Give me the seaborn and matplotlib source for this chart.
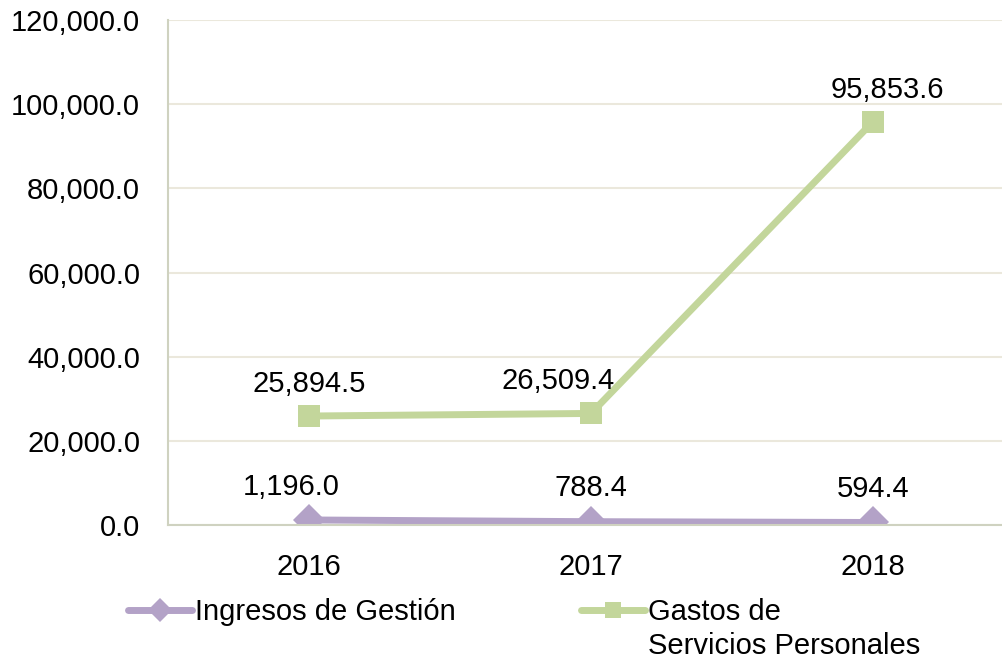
import matplotlib
matplotlib.use("Agg")
import matplotlib.pyplot as plt
import seaborn as sns
import pandas as pd
from matplotlib.ticker import FuncFormatter, MultipleLocator

years = ["2016", "2017", "2018"]
ingresos = [1196.0, 788.4, 594.4]
gastos = [25894.5, 26509.4, 95853.6]
series_names = ["Ingresos de Gestión", "Gastos de"]
gastos_label_line2 = "Servicios Personales"

df = pd.DataFrame({
    "year": years * 2,
    "value": ingresos + gastos,
    "serie": [series_names[0]] * 3 + [series_names[1]] * 3,
})

sns.set_theme(style="white")
plt.rcParams["font.family"] = ["Liberation Sans", "DejaVu Sans"]
plt.rcParams["text.color"] = "#000000"

FS = 21
purple = "#b3a2c7"
green = "#c3d69b"

fig = plt.figure(figsize=(10.02, 6.62), dpi=100)
ax = fig.add_axes([168 / 1002, 137 / 662, 834 / 1002, 505 / 662])

sns.lineplot(
    data=df, x="year", y="value", hue="serie", style="serie",
    palette={series_names[0]: purple, series_names[1]: green},
    markers={series_names[0]: "D", series_names[1]: "s"},
    dashes=False, linewidth=5, markersize=16, markeredgewidth=0,
    sort=False, ax=ax, legend=True,
)

ax.set_xlim(-0.5, -0.5 + 834 / 282)
ax.set_ylim(0, 120000)
ax.yaxis.set_major_locator(MultipleLocator(20000))
ax.yaxis.set_major_formatter(FuncFormatter(lambda v, p: f"{v:,.1f}"))
ax.grid(axis="y", color="#ebe8dc", linewidth=1.5)
ax.set_axisbelow(True)
for s in ["top", "right"]:
    ax.spines[s].set_visible(False)
for s in ["left", "bottom"]:
    ax.spines[s].set_color("#cfd2c0")
    ax.spines[s].set_linewidth(1.5)
ax.tick_params(axis="both", labelsize=FS, colors="#000000", length=0)
ax.tick_params(axis="y", pad=20)
ax.tick_params(axis="x", pad=20)
ax.set_xlabel("")
ax.set_ylabel("")

# data labels
xoff_i = [-13, 0, 0]
xoff_g = [0, -24, 10]
for i, v in enumerate(ingresos):
    ax.annotate(f"{v:,.1f}", (i, v), xytext=(xoff_i[i], 24), textcoords="offset points",
                ha="center", va="center", fontsize=FS, color="#000000")
for i, v in enumerate(gastos):
    ax.annotate(f"{v:,.1f}", (i, v), xytext=(xoff_g[i], 23), textcoords="offset points",
                ha="center", va="center", fontsize=FS, color="#000000")

handles, labels = ax.get_legend_handles_labels()
ax.get_legend().remove()
for h, ms in zip(handles, [12, 12]):
    h.set_markersize(ms)
    h.set_linewidth(5)
    h.set_markeredgewidth(0)
leg = fig.legend(handles, labels, loc="upper left", bbox_to_anchor=(128 / 1002, 1 - 598 / 662),
                 ncol=2, frameon=False, fontsize=FS, handlelength=2.2, handletextpad=0.1,
                 columnspacing=4.3, borderaxespad=0, borderpad=0)

fig.canvas.draw()
t2 = leg.get_texts()[1]
bb = t2.get_window_extent()
x0, y0 = fig.transFigure.inverted().transform((bb.x0, bb.y0))
fig.text(x0, y0 - 6 / 662, gastos_label_line2, fontsize=FS, color="#000000",
         ha="left", va="top")

fig.savefig("out.png", dpi=100)
